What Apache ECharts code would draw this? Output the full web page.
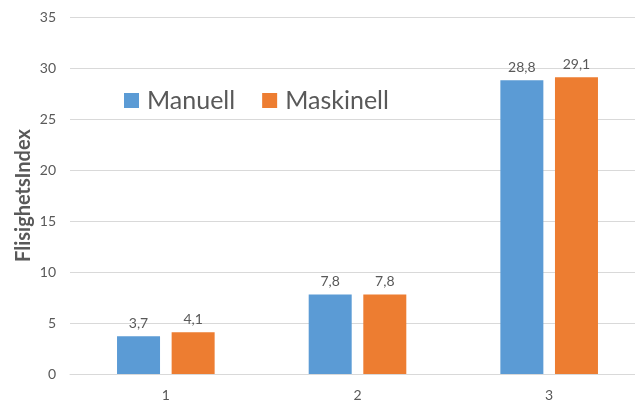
<!DOCTYPE html>
<html>
<head>
<meta charset="utf-8">
<script src="https://cdn.jsdelivr.net/npm/echarts@6/dist/echarts.min.js"></script>
<style>
  html, body { margin: 0; padding: 0; background: #ffffff; }
  #chart { width: 635px; height: 403px; }
</style>
</head>
<body>
<div id="chart"></div>
<script>
// Flisighetsindex per prov, manuell vs maskinell huggning
const categories = ['1', '2', '3'];
const manuell = [3.7, 7.8, 28.8];
const maskinell = [4.1, 7.8, 29.1];
const yTicks = { min: 0, max: 35, interval: 5 };

const FONT = 'Lato, "Liberation Sans", sans-serif';
const TEXT = '#595959';

const fmt = p => String(p.value).replace('.', ',');

const chart = echarts.init(document.getElementById('chart'), null, { renderer: 'canvas' });
chart.setOption({
  animation: false,
  textStyle: { fontFamily: FONT },
  // plot area runs slightly past the right edge of the canvas
  grid: { left: 70, width: 575, top: 17, bottom: 29, containLabel: false, outerBoundsMode: 'none' },
  legend: {
    left: 119, top: 83,
    itemWidth: 15, itemHeight: 15, itemGap: 27,
    icon: 'rect',
    textStyle: { fontSize: 25, color: TEXT, fontFamily: FONT, padding: [0, 0, 0, 3] },
    data: ['Manuell', 'Maskinell']
  },
  xAxis: {
    type: 'category',
    data: categories,
    axisLine: { show: true, lineStyle: { color: '#d9d9d9', width: 1 } },
    axisTick: { show: false },
    axisLabel: { color: TEXT, fontSize: 14, margin: 14, fontFamily: FONT }
  },
  yAxis: {
    type: 'value',
    min: yTicks.min, max: yTicks.max, interval: yTicks.interval,
    name: 'FlisighetsIndex',
    nameLocation: 'middle',
    nameGap: 36,
    nameMoveOverlap: false,
    nameTextStyle: { fontSize: 20, fontWeight: 'bold', color: TEXT, fontFamily: FONT },
    axisLine: { show: false },
    axisTick: { show: false },
    axisLabel: { color: TEXT, fontSize: 14, margin: 14, fontFamily: FONT },
    splitLine: { lineStyle: { color: '#d9d9d9', width: 1 } }
  },
  series: [
    {
      name: 'Manuell', type: 'bar', data: manuell,
      itemStyle: { color: '#5B9BD5' },
      barWidth: 43, barGap: '27%',
      label: { show: true, position: 'top', distance: 6, color: TEXT, fontSize: 14, formatter: fmt }
    },
    {
      name: 'Maskinell', type: 'bar', data: maskinell,
      itemStyle: { color: '#ED7D31' },
      barWidth: 43, barGap: '27%',
      label: { show: true, position: 'top', distance: 6, color: TEXT, fontSize: 14, formatter: fmt }
    }
  ]
});
</script>
</body>
</html>
